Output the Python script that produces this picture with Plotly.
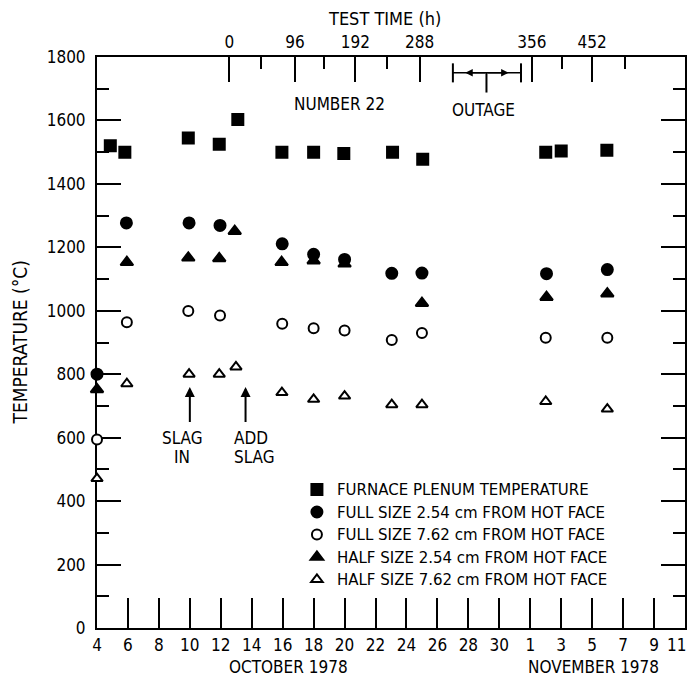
import plotly.graph_objects as go

# ---------------- data (x = day counted from Oct 1; Nov 1 = 32) ----------------
plenum_day = [4.86, 5.8, 9.9, 11.9, 13.1, 15.95, 18.0, 19.95, 23.1, 25.05, 33.0, 34.0, 36.95]
plenum_temp = [1520, 1500, 1545, 1525, 1603, 1500, 1500, 1496, 1500, 1478, 1500, 1504, 1506]

full254_day = [4.0, 5.9, 9.95, 11.95, 15.97, 18.0, 20.0, 23.05, 25.0, 33.05, 36.98]
full254_temp = [800, 1277, 1277, 1269, 1211, 1178, 1162, 1118, 1119, 1117, 1130]

full762_day = [4.0, 5.93, 9.9, 11.95, 15.97, 18.0, 20.0, 23.05, 25.0, 33.0, 36.98]
full762_temp = [594, 964, 999, 985, 959, 945, 938, 908, 930, 915, 915]

half254_day = [4.0, 5.93, 9.9, 11.9, 12.9, 15.93, 18.0, 20.0, 25.0, 33.05, 36.98]
half254_temp = [752, 1153, 1167, 1165, 1251, 1153, 1158, 1148, 1024, 1043, 1054]

half762_day = [4.0, 5.93, 9.95, 11.9, 12.98, 15.95, 18.0, 20.0, 23.05, 25.0, 33.0, 36.98]
half762_temp = [471, 770, 800, 800, 823, 742, 721, 731, 704, 704, 714, 690]

bottom_tick_days = list(range(4, 43, 2))
bottom_tick_text = ["4", "6", "8", "10", "12", "14", "16", "18", "20", "22", "24", "26",
                    "28", "30", "1", "3", "5", "7", "9", ""]
last_tick_day = 42
last_tick_text = "11"   # drawn right-aligned at the frame edge so it is not cut off

top_major_days = [12.55, 16.8, 20.7, 24.85, 32.1, 36.0]
top_major_text = ["0", "96", "192", "288", "356", "452"]
top_minor_days = [14.6, 18.7, 22.75, 34.05, 38.1]

FONT = "DejaVu Sans Condensed, Liberation Sans Narrow, Arial Narrow, sans-serif"
LEGEND_FONT = "DejaVu Sans, Liberation Sans, sans-serif"
BLACK = "black"

fig = go.Figure()

series = [
    ("FURNACE PLENUM TEMPERATURE", plenum_day, plenum_temp, "square", BLACK, 11, 1),
    ("FULL SIZE 2.54 cm FROM HOT FACE", full254_day, full254_temp, "circle", BLACK, 11, 2),
    ("FULL SIZE 7.62 cm FROM HOT FACE", full762_day, full762_temp, "circle", "white", 10, 3),
    ("HALF SIZE 2.54 cm FROM HOT FACE", half254_day, half254_temp, "triangle-up", BLACK, 11, 4),
    ("HALF SIZE 7.62 cm FROM HOT FACE", half762_day, half762_temp, "triangle-up", "white", 10, 5),
]
# draw triangles first so circles sit on top where they overlap
draw_order = [4, 3, 0, 2, 1]
for i in draw_order:
    name, xs, ys, sym, col, size, rank = series[i]
    fig.add_trace(go.Scatter(
        x=xs, y=ys, mode="markers", name=name, legendrank=rank,
        cliponaxis=False,
        marker=dict(symbol=sym, size=size, color=col,
                    line=dict(color=BLACK, width=2)),
    ))

# dummy trace to activate top axis
fig.add_trace(go.Scatter(x=[4, 42], y=[None, None], xaxis="x2", mode="markers",
                         showlegend=False, hoverinfo="skip"))

fig.update_layout(
    width=691, height=684,
    margin=dict(l=97, r=6, t=57, b=56, autoexpand=False),
    paper_bgcolor="white", plot_bgcolor="white",
    font=dict(family=FONT, size=17, color=BLACK),
    showlegend=True,
    legend=dict(x=0.34, y=0.271, xanchor="left", yanchor="top",
                bgcolor="rgba(0,0,0,0)", font=dict(size=15, family=LEGEND_FONT),
                itemwidth=30, tracegroupgap=0),
    xaxis=dict(range=[4, 42], tickmode="array", tickvals=bottom_tick_days,
               ticktext=bottom_tick_text, ticks="inside", ticklen=30, tickwidth=2,
               tickcolor=BLACK, showline=True, linewidth=2, linecolor=BLACK,
               showgrid=False, zeroline=False, layer="below traces",
               tickfont=dict(size=17), ticklabelstandoff=1,
               ticklabeloverflow="allow", automargin=False),
    xaxis2=dict(range=[4, 42], overlaying="x", side="top", anchor="y",
                tickmode="array", tickvals=top_major_days, ticktext=top_major_text,
                ticks="inside", ticklen=25, tickwidth=2, tickcolor=BLACK,
                minor=dict(tickmode="array", tickvals=top_minor_days, ticks="inside",
                           ticklen=12, tickwidth=2, tickcolor=BLACK),
                showline=True, linewidth=2, linecolor=BLACK, showgrid=False,
                zeroline=False, tickfont=dict(size=17), layer="below traces",
                automargin=False),
    yaxis=dict(range=[0, 1800], tickmode="array", tickvals=list(range(0, 1801, 200)),
               ticks="inside", ticklen=24, tickwidth=2, tickcolor=BLACK,
               minor=dict(dtick=100, ticks="inside", ticklen=12, tickwidth=2,
                          tickcolor=BLACK),
               mirror="ticks", showline=True, linewidth=2, linecolor=BLACK,
               showgrid=False, zeroline=False, layer="below traces",
               tickfont=dict(size=17), ticklabelstandoff=6, automargin=False),
)

ann = []
ann.append(dict(text=last_tick_text, xref="x", yref="paper", x=last_tick_day, y=-0.0298,
                xanchor="right", yanchor="middle", xshift=3, showarrow=False,
                font=dict(size=17)))
ann.append(dict(text="TEMPERATURE (°C)", xref="paper", yref="paper", x=-0.131, y=0.5,
                xanchor="center", yanchor="middle",
                textangle=-90, showarrow=False, font=dict(size=19)))
ann.append(dict(text="OCTOBER 1978", xref="x", yref="paper", x=16.4, y=-0.068,
                xanchor="center", yanchor="middle", showarrow=False, font=dict(size=17)))
ann.append(dict(text="NOVEMBER 1978", xref="x", yref="paper", x=36.1, y=-0.068,
                xanchor="center", yanchor="middle", showarrow=False, font=dict(size=17)))
ann.append(dict(text="TEST TIME (h)", xref="x", yref="paper", x=22.6, y=1.068,
                xanchor="center", yanchor="middle", showarrow=False, font=dict(size=18)))
ann.append(dict(text="NUMBER 22", xref="x", yref="y", x=19.7, y=1651,
                xanchor="center", yanchor="middle", showarrow=False, font=dict(size=17)))
ann.append(dict(text="OUTAGE", xref="x", yref="y", x=29.0, y=1632,
                xanchor="center", yanchor="middle", showarrow=False, font=dict(size=17)))
# slag labels, one line each
for txt, xd, yv, xa in (("SLAG", 9.5, 600, "center"), ("IN", 9.5, 540, "center"),
                        ("ADD", 12.75, 600, "left"), ("SLAG", 12.75, 540, "left")):
    ann.append(dict(text=txt, xref="x", yref="y", x=xd, y=yv, xanchor=xa,
                    yanchor="middle", showarrow=False, font=dict(size=17)))
# slag arrows
for xd in (10.0, 13.6):
    ann.append(dict(text="", xref="x", yref="y", x=xd, y=760, ax=xd, ay=645,
                    axref="x", ayref="y", showarrow=True, arrowhead=2, arrowsize=1,
                    arrowwidth=2, arrowcolor=BLACK))
# outage dimension arrows
ann.append(dict(text="", xref="x", yref="y", x=27.8, y=1750, ax=29.17, ay=1750,
                axref="x", ayref="y", showarrow=True, arrowhead=2, arrowsize=1,
                arrowwidth=1.5, arrowcolor=BLACK))
ann.append(dict(text="", xref="x", yref="y", x=30.6, y=1750, ax=29.17, ay=1750,
                axref="x", ayref="y", showarrow=True, arrowhead=2, arrowsize=1,
                arrowwidth=1.5, arrowcolor=BLACK))
fig.update_layout(annotations=ann)

shapes = [
    dict(type="line", xref="x", yref="y", x0=27.0, x1=31.4, y0=1750, y1=1750,
         line=dict(color=BLACK, width=1.5)),
    dict(type="line", xref="x", yref="y", x0=27.0, x1=27.0, y0=1720, y1=1780,
         line=dict(color=BLACK, width=2)),
    dict(type="line", xref="x", yref="y", x0=31.4, x1=31.4, y0=1720, y1=1780,
         line=dict(color=BLACK, width=2)),
    dict(type="line", xref="x", yref="y", x0=29.17, x1=29.17, y0=1750, y1=1688,
         line=dict(color=BLACK, width=2)),
]
fig.update_layout(shapes=shapes)

fig.write_html("out.html")
